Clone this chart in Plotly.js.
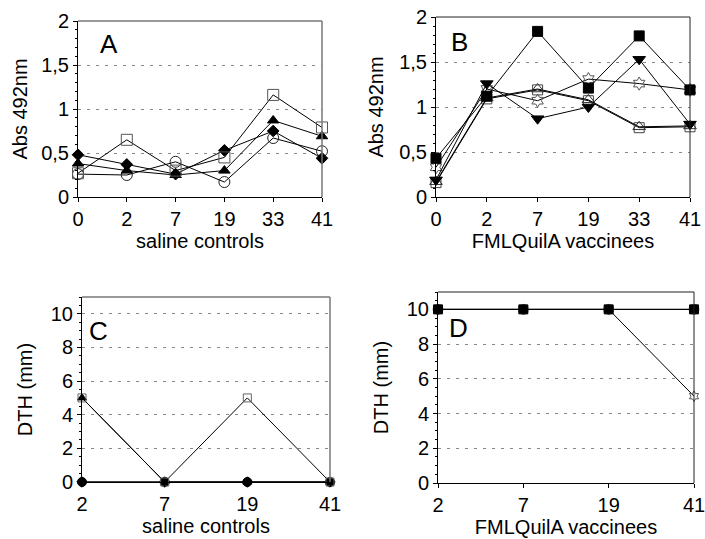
<!DOCTYPE html>
<html><head><meta charset="utf-8">
<script src="https://cdn.plot.ly/plotly-3.0.1.min.js"></script>
<style>html,body{margin:0;padding:0;background:#fff}#chart{width:705px;height:539px}</style>
</head><body><div id="chart"></div>
<script>
// ---- data ----
const absDays = ['0','2','7','19','33','41'];
const dthDays = ['2','7','19','41'];
const absTicks = [0,0.5,1,1.5,2];
const absTickText = ['0','0,5','1','1,5','2'];
const dthTicks = [0,2,4,6,8,10];
const dthTickText = ['0','2','4','6','8','10'];

// Panel A: saline controls (Abs 492nm)
const A_openSquare = [0.27,0.65,0.30,0.45,1.16,0.79];
const A_triangle   = [0.38,0.30,0.25,0.30,0.87,0.69];
const A_diamond    = [0.48,0.37,0.26,0.53,0.75,0.44];
const A_circle     = [0.26,0.25,0.40,0.17,0.67,0.52];

// Panel B: FMLQuilA vaccinees (Abs 492nm)
const B_square     = [0.43,1.12,1.84,1.21,1.79,1.19];
const B_downTri    = [0.19,1.26,0.87,1.00,1.53,0.81];
const B_openTri    = [0.17,1.10,1.20,1.08,0.78,0.79];
const B_openSquare = [0.16,1.09,1.19,1.07,0.77,0.78];
const B_star       = [0.33,1.20,1.07,1.31,1.26,1.19];

// Panel C: saline controls (DTH mm)
const C_openSquare = [5,0,5,0];
const C_triangle   = [5,0,0,0];
const C_circle     = [0,0,0,0];
const C_diamond    = [0,0,0,0];

// Panel D: FMLQuilA vaccinees (DTH mm)
const D_circle = [10,10,10,10];
const D_star   = [10,10,10,5];
const D_square = [10,10,10,10];

const FONT = 'Liberation Sans, Arial, sans-serif';

function tr(xa, ya, x, y, symbol, size, color, lineColor){
  return {x:x, y:y, xaxis:xa, yaxis:ya, type:'scatter', mode:'lines+markers', cliponaxis:false,
    line:{color:lineColor||'#000', width:1},
    marker:{symbol:symbol, size:size, color:color||'#000', line:{color:color||'#000', width:1}},
    showlegend:false, hoverinfo:'skip'};
}

const traces = [
  tr('x','y',absDays,A_circle,'circle-open',11,'#222'),
  tr('x','y',absDays,A_diamond,'diamond',9,'#000'),
  tr('x','y',absDays,A_triangle,'triangle-up',10,'#000'),
  tr('x','y',absDays,A_openSquare,'square-open',11,'#555'),

  tr('x2','y2',absDays,B_openSquare,'square-open',10,'#444'),
  tr('x2','y2',absDays,B_openTri,'triangle-up-open',11,'#333'),
  tr('x2','y2',absDays,B_star,'hexagram-open',10,'#555'),
  tr('x2','y2',absDays,B_downTri,'triangle-down',11,'#000'),
  tr('x2','y2',absDays,B_square,'square',10,'#000'),

  tr('x3','y3',dthDays,C_circle,'circle',9,'#000'),
  tr('x3','y3',dthDays,C_diamond,'diamond',8,'#000'),
  tr('x3','y3',dthDays,C_triangle,'triangle-up',8,'#000'),
  tr('x3','y3',dthDays,C_openSquare,'square-open',8,'#666'),

  tr('x4','y4',dthDays,D_circle,'circle-open',10,'#888'),
  tr('x4','y4',dthDays,D_star,'hexagram-open',8,'#555'),
  tr('x4','y4',dthDays,D_square,'square',9,'#000')
];

const W=705, H=539;
function dx(a,b){return [a/W,b/W];}
function dy(top,bot){return [1-bot/H,1-top/H];}

function xax(domain, anchor, cats, title){
  return {domain:domain, anchor:anchor, type:'category', categoryorder:'array', categoryarray:cats,
    range:[0,cats.length-1], showgrid:false, zeroline:false, showline:true, linecolor:'#000', linewidth:1,
    ticks:'outside', ticklen:4, tickcolor:'#000', tickfont:{family:FONT,size:20,color:'#000'},
    title:{text:title, font:{family:FONT,size:20,color:'#000'}, standoff:1}, fixedrange:true};
}
function yax(domain, anchor, range, tv, tt, minorDt, title, standoff){
  return {domain:domain, anchor:anchor, range:range, tickmode:'array', tickvals:tv, ticktext:tt,
    showgrid:true, gridcolor:'#888', gridwidth:1, griddash:'3px,6px', zeroline:false,
    showline:true, linecolor:'#000', linewidth:1, ticks:'outside', ticklen:4, tickcolor:'#000',
    minor:{dtick:minorDt, ticks:'outside', ticklen:2, tickcolor:'#000', showgrid:false},
    tickfont:{family:FONT,size:20,color:'#000'},
    title:{text:title, font:{family:FONT,size:20,color:'#000'}, standoff:standoff}, fixedrange:true};
}

const layout = {
  width:W, height:H, margin:{l:0,r:0,t:0,b:0}, paper_bgcolor:'#fff', plot_bgcolor:'#fff',
  font:{family:FONT, color:'#000'}, showlegend:false,
  xaxis: xax(dx(78,322),'y',absDays,'saline controls'),
  yaxis: yax(dy(21,197),'x',[0,2],absTicks,absTickText,0.1,'Abs 492nm',8),
  xaxis2: xax(dx(436,690),'y2',absDays,'FMLQuilA vaccinees'),
  yaxis2: yax(dy(17,197),'x2',[0,2],absTicks,absTickText,0.1,'Abs 492nm',10),
  xaxis3: xax(dx(82,330),'y3',dthDays,'saline controls'),
  yaxis3: yax(dy(297,482),'x3',[0,11],dthTicks,dthTickText,0.5,'DTH (mm)',12),
  xaxis4: xax(dx(438,694),'y4',dthDays,'FMLQuilA vaccinees'),
  yaxis4: yax(dy(292,483),'x4',[0,11],dthTicks,dthTickText,0.5,'DTH (mm)',12),
  shapes: [
    {type:'line',xref:'x domain',yref:'y domain',x0:0,x1:1,y0:1,y1:1,line:{color:'#777',width:1.5}},
    {type:'line',xref:'x domain',yref:'y domain',x0:1,x1:1,y0:0,y1:1,line:{color:'#777',width:1.5}},
    {type:'line',xref:'x2 domain',yref:'y2 domain',x0:0,x1:1,y0:1,y1:1,line:{color:'#222',width:1}},
    {type:'line',xref:'x2 domain',yref:'y2 domain',x0:1,x1:1,y0:0,y1:1,line:{color:'#222',width:1}},
    {type:'line',xref:'x3 domain',yref:'y3 domain',x0:0,x1:1,y0:1,y1:1,line:{color:'#777',width:1.5}},
    {type:'line',xref:'x3 domain',yref:'y3 domain',x0:1,x1:1,y0:0,y1:1,line:{color:'#777',width:1.5}},
    {type:'line',xref:'x4 domain',yref:'y4 domain',x0:0,x1:1,y0:1,y1:1,line:{color:'#222',width:1}},
    {type:'line',xref:'x4 domain',yref:'y4 domain',x0:1,x1:1,y0:0,y1:1,line:{color:'#222',width:1}}
  ],
  annotations: [
    {text:'A', xref:'paper', yref:'paper', x:98/W, y:1-44/H, xanchor:'left', yanchor:'middle', showarrow:false, font:{family:FONT,size:26,color:'#000'}},
    {text:'B', xref:'paper', yref:'paper', x:449/W, y:1-42/H, xanchor:'left', yanchor:'middle', showarrow:false, font:{family:FONT,size:26,color:'#000'}},
    {text:'C', xref:'paper', yref:'paper', x:87/W, y:1-331/H, xanchor:'left', yanchor:'middle', showarrow:false, font:{family:FONT,size:26,color:'#000'}},
    {text:'D', xref:'paper', yref:'paper', x:447/W, y:1-328/H, xanchor:'left', yanchor:'middle', showarrow:false, font:{family:FONT,size:26,color:'#000'}}
  ]
};

Plotly.newPlot('chart', traces, layout, {staticPlot:true, displayModeBar:false});
</script></body></html>
